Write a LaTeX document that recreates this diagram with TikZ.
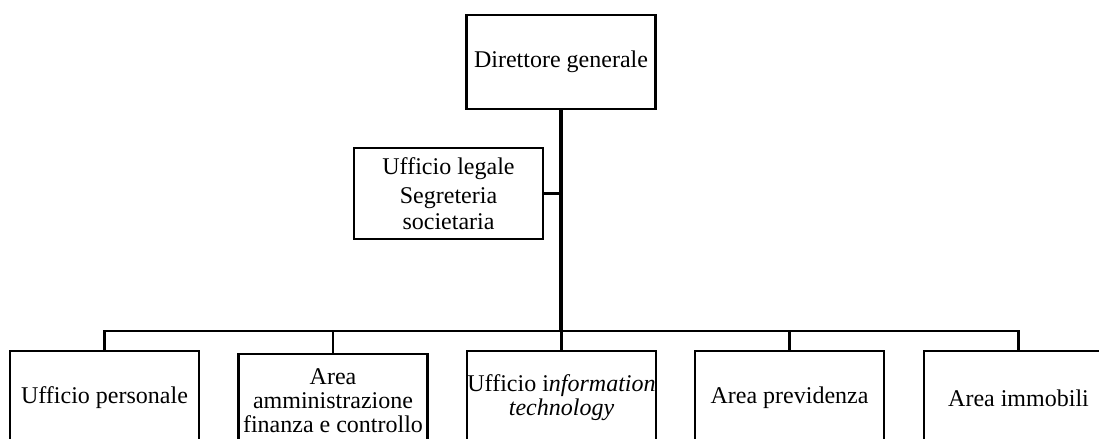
\documentclass[tikz,border=0pt]{standalone}
\usepackage{fontspec}
\setmainfont{Liberation Serif}

\tikzset{
  unit/.style={draw, line width=1.1pt, minimum width=94.5pt, minimum height=47pt,
    inner sep=1pt, align=center, font=\fontsize{12}{12}\selectfont},
  link/.style={line width=1.1pt},
  trunk/.style={line width=1.6pt}
}

\begin{document}
\begin{tikzpicture}[x=0.5pt,y=-0.5pt]
    \useasboundingbox (0,0) rectangle (1099,439);
    \node[unit] (dir) at (561,62) {Direttore generale};
    \node[unit, minimum height=45.5pt] (legal) at (448.5,193.5) {Ufficio legale\\[2.5pt] Segreteria\\[0.8pt] societaria};
    \node[unit, inner xsep=0pt] (pers) at (104.5,398) {Ufficio personale};
    \node[unit, inner xsep=0pt] (amm) at (333,401) {Area\\ amministrazione\\ finanza e controllo};
    \node[unit, inner xsep=0pt] (it) at (561.5,398) {Ufficio i\textit{nformation}\\ \textit{technology}};
    \node[unit, inner xsep=0pt] (prev) at (789.5,398) {Area previdenza};
    \node[unit, inner xsep=0pt] (imm) at (1018.5,398) {Area immobili};
    \coordinate (bus) at (561,331);
    % collegamenti
    \draw[trunk] (dir.south) -- (dir.south |- bus);
    \draw[link] (legal.east) -- (legal.east -| dir.south);
    \draw[link] (pers.north) -- (pers.north |- bus) -- (imm.north |- bus) -- (imm.north);
    \foreach \b in {amm,it,prev}
      \draw[link] (\b.north) -- (\b.north |- bus);
\end{tikzpicture}
\end{document}
